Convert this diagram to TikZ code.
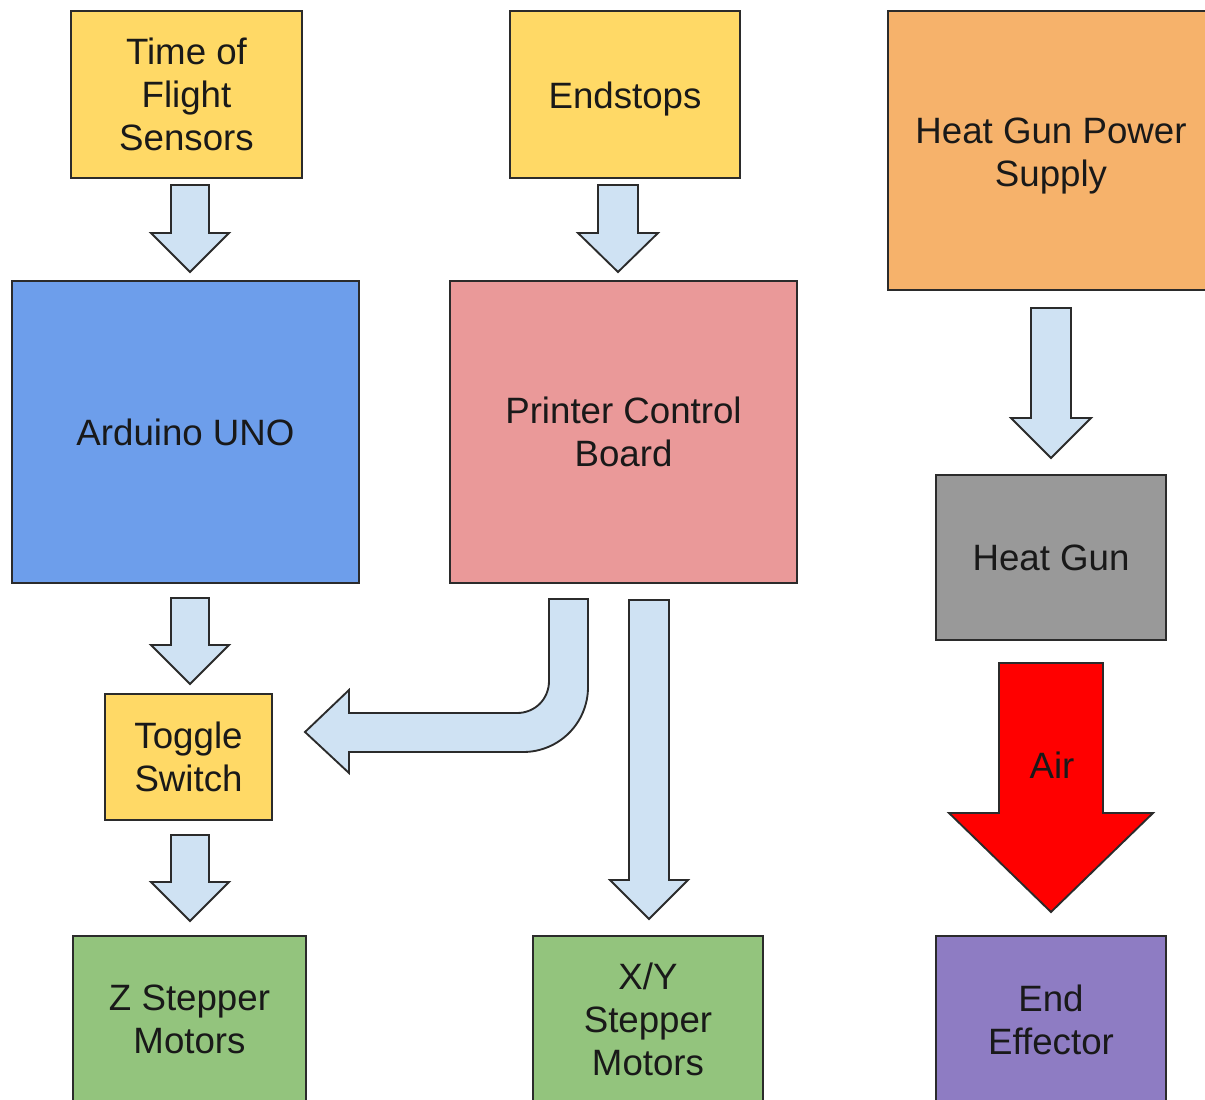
\documentclass[tikz,border=0pt]{standalone}
\usepackage{fontspec}
\setmainfont{Liberation Sans}
\definecolor{cyellow}{HTML}{FFD966}
\definecolor{cblue}{HTML}{6D9EEB}
\definecolor{cpink}{HTML}{EA9999}
\definecolor{corange}{HTML}{F6B26B}
\definecolor{cgray}{HTML}{999999}
\definecolor{cgreen}{HTML}{93C47D}
\definecolor{cpurple}{HTML}{8E7CC3}
\definecolor{carrow}{HTML}{CFE2F3}
\definecolor{cred}{HTML}{FF0000}
\definecolor{cline}{HTML}{2B2B2B}
\newcommand{\blkdown}[7]{%
  \draw[#7] ({#1-#5},{#2}) -- ({#1+#5},{#2}) -- ({#1+#5},{#3}) -- ({#1+#6},{#3})
    -- ({#1},{#4}) -- ({#1-#6},{#3}) -- ({#1-#5},{#3}) -- cycle;}
\begin{document}
\begin{tikzpicture}[x=0.75pt,y=-0.75pt,
  box/.style={draw=cline, line width=1.4pt, inner sep=0pt, align=center,
    font=\fontsize{27.5}{32.3}\selectfont, text=black!90},
  blockarrow/.style={draw=cline, line width=1.4pt, fill=carrow, line join=miter},
  airarrow/.style={draw=cline, line width=1.4pt, fill=cred, line join=miter},
  lbl/.style={font=\fontsize{27.5}{32.3}\selectfont, text=black!90}]
\useasboundingbox (0,0) rectangle (1205,1099);
\clip (0,0) rectangle (1205,1099);
\fill[white] (0,0) rectangle (1205,1099);

% boxes
\node[box, fill=cyellow, minimum width=231*0.75pt, minimum height=167*0.75pt] (tof) at (186.5,94.5) {Time of\\Flight\\Sensors};
\node[box, fill=cyellow, minimum width=230*0.75pt, minimum height=167*0.75pt] (end) at (625,94.5) {\rule{0pt}{26pt}Endstops};
\node[box, fill=corange, minimum width=326*0.75pt, minimum height=279*0.75pt] (hgps) at (1051,150.5) {\rule{0pt}{27pt}Heat Gun Power\\Supply};
\node[box, fill=cblue, minimum width=347*0.75pt, minimum height=302*0.75pt] (ard) at (185.5,432) {Arduino UNO};
\node[box, fill=cpink, minimum width=347*0.75pt, minimum height=302*0.75pt] (pcb) at (623.5,432) {Printer Control\\Board};
\node[box, fill=cgray, minimum width=230*0.75pt, minimum height=165*0.75pt] (hg) at (1051,557.5) {Heat Gun};
\node[box, fill=cyellow, minimum width=167*0.75pt, minimum height=126*0.75pt] (tog) at (188.5,757) {Toggle\\Switch};
\node[box, fill=cgreen, minimum width=233*0.75pt, minimum height=167*0.75pt] (zst) at (189.5,1019.5) {Z Stepper\\Motors};
\node[box, fill=cgreen, minimum width=230*0.75pt, minimum height=167*0.75pt] (xyst) at (648,1019.5) {X/Y\\Stepper\\Motors};
\node[box, fill=cpurple, minimum width=230*0.75pt, minimum height=167*0.75pt] (ee) at (1051,1019.5) {End\\Effector};

% straight block arrows
\blkdown{190}{185}{233}{272}{19}{39}{blockarrow}
\blkdown{618}{185}{233}{272}{20}{40}{blockarrow}
\blkdown{1051}{308}{418}{458}{20}{40}{blockarrow}
\blkdown{190}{598}{645}{684}{19}{39}{blockarrow}
\blkdown{190}{835}{882}{921}{19}{39}{blockarrow}
\blkdown{649}{600}{880}{919}{20}{39}{blockarrow}

% bent arrow from PCB to toggle switch
\draw[blockarrow] (549,599) -- (588,599) -- (588,687)
  .. controls (588,723) and (559,752) .. (523,752)
  -- (349,752) -- (349,773) -- (305,732) -- (349,690) -- (349,713) -- (517,713)
  .. controls (535,713) and (549,699) .. (549,681) -- cycle;

% air arrow
\blkdown{1051}{663}{813}{912}{52}{102}{airarrow}
\node[lbl] (air) at (1052,765) {Air};
\end{tikzpicture}
\end{document}
